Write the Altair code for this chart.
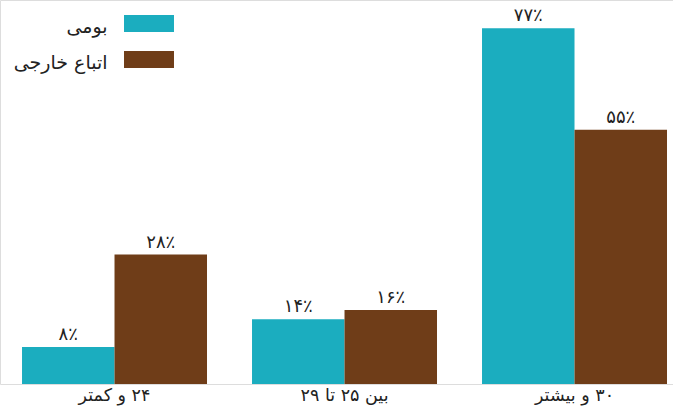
import altair as alt
import pandas as pd

# Age groups (Persian) and the two population series
age_groups = ["۲۴ و کمتر", "بین ۲۵ تا ۲۹", "۳۰ و بیشتر"]
series_names = ["بومی", "اتباع خارجی"]
native_pct = [8, 14, 77]
foreign_pct = [28, 16, 55]

FA_DIGITS = "۰۱۲۳۴۵۶۷۸۹"


def fa_num(n):
    return "".join(FA_DIGITS[int(c)] for c in str(n))


rows = []
for g, a, b in zip(age_groups, native_pct, foreign_pct):
    rows.append({"group": g, "series": series_names[0], "value": a})
    rows.append({"group": g, "series": series_names[1], "value": b})
df = pd.DataFrame(rows)
df["label"] = df["value"].apply(lambda v: fa_num(v) + "٪")

colors = ["#1BADBF", "#6F3D18"]
FONT = "DejaVu Sans"

x_enc = alt.X(
    "group:N",
    sort=age_groups,
    title=None,
    scale=alt.Scale(paddingInner=0.1957, paddingOuter=0.0609, align=0.786),
    axis=alt.Axis(
        labelAngle=0,
        domain=False,
        ticks=False,
        labelFont=FONT,
        labelFontSize=17.5,
        labelColor="#222222",
        labelPadding=2,
        labelExpr="'\u202b' + datum.label + '\u202c'",
    ),
)
y_enc = alt.Y(
    "value:Q",
    title=None,
    scale=alt.Scale(domain=[0, 83.1], nice=False),
    axis=None,
)
offset_enc = alt.XOffset("series:N", sort=series_names)

bars = alt.Chart(df).mark_bar().encode(
    x=x_enc,
    y=y_enc,
    xOffset=offset_enc,
    color=alt.Color(
        "series:N",
        sort=series_names,
        scale=alt.Scale(domain=series_names, range=colors),
        legend=alt.Legend(
            title=None,
            orient="none",
            legendX=139.5,
            legendY=17,
            direction="vertical",
            # wide swatch, raised a little above the label's centre line
            symbolType="M-2.94,-1.35H2.94V0.65H-2.94Z",
            symbolSize=289,
            symbolStrokeWidth=0,
            symbolOpacity=1,
            labelAlign="right",
            # negative offset puts the labels to the left of the swatches
            labelOffset=alt.ExprRef(expr="-51"),
            labelFont=FONT,
            labelFontSize=19,
            labelColor="#222222",
            rowPadding=14,
        ),
    ),
)

labels = alt.Chart(df).mark_text(
    baseline="bottom", dy=-3, font=FONT, fontSize=18, color="#222222"
).encode(
    x=x_enc,
    y=y_enc,
    xOffset=offset_enc,
    text="label:N",
)

chart = (
    alt.layer(bars, labels)
    .properties(
        width=673,
        height=384,
        padding={"left": 0, "top": 0, "right": 0, "bottom": 23},
        autosize=alt.AutoSizeParams(type="none"),
    )
    .configure_view(stroke=None)
    .configure(background="white")
)

chart.save("out.html", embed_options={"renderer": "svg", "actions": False})
